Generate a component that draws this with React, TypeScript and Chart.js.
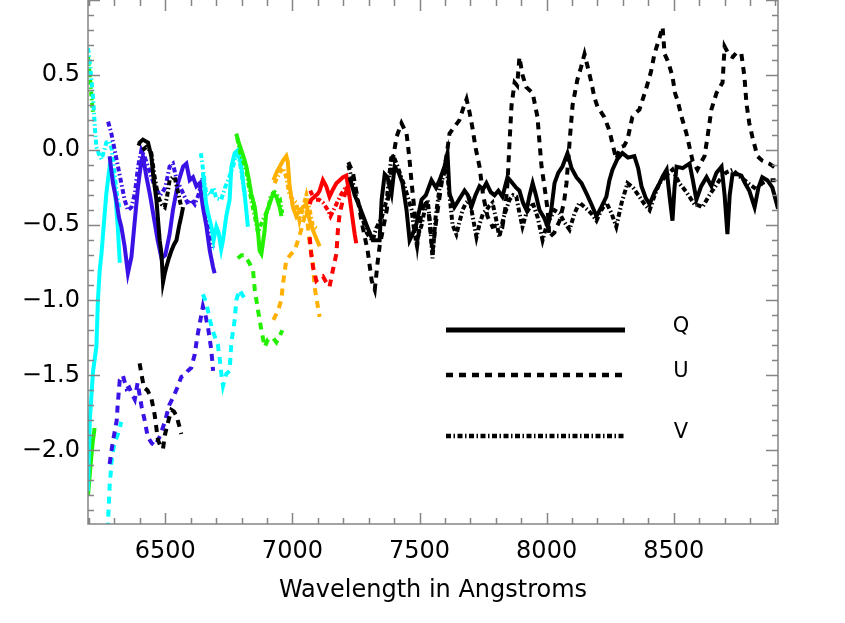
import React, { useEffect, useRef } from "react";
import { Chart, registerables } from "chart.js";

Chart.register(...registerables);

type P = [number, number][];

// ---- axis ----
const X_MIN = 6196;
const X_MAX = 8910;
const Y_MIN = -2.49;
const Y_MAX = 1.0;
const xTickValues = [6500, 7000, 7500, 8000, 8500];
const yTickValues = [-2.0, -1.5, -1.0, -0.5, 0.0, 0.5];
const xTitle = "Wavelength in Angstroms";
const legendLabels = ["Q", "U", "V"];

// ---- colours ----
const CYAN = "#00ffff";
const BLUE = "#3a12e6";
const BLACK = "#000000";
const GREEN = "#22f000";
const ORANGE = "#ffb000";
const RED = "#ff0000";

// ---- green (edge fragment) ----
const green2Q: P = [[6196, -2.3], [6205, -2.12], [6214, -1.95], [6222, -1.85]];
const green2V: P = [[6196, 0.62], [6203, 0.5], [6210, 0.35], [6216, 0.24]];

// ---- cyan order 1 ----
const cyan1Q: P = [[6196, -2.27], [6203, -1.8], [6216, -1.47], [6229, -1.31], [6235, -1.0], [6242, -0.8], [6249, -0.69], [6258, -0.5], [6268, -0.29], [6281, -0.11], [6290, -0.13], [6301, -0.24], [6313, -0.51], [6321, -0.75]];
const cyan1U: P = [[6266, -2.7], [6275, -2.47], [6281, -2.24], [6290, -2.05], [6300, -1.95], [6314, -1.89], [6327, -1.81]];
const cyan1V: P = [[6196, 0.68], [6205, 0.55], [6216, 0.35], [6225, 0.1], [6229, 0.02], [6240, -0.03], [6249, -0.06], [6260, 0.0], [6268, 0.05], [6281, 0.06], [6290, 0.0], [6300, -0.15], [6310, -0.3], [6321, -0.4]];

// ---- blue order ----
const blueQ: P = [[6281, -0.04], [6294, -0.22], [6307, -0.33], [6318, -0.45], [6327, -0.51], [6340, -0.64], [6353, -0.82], [6367, -0.71], [6380, -0.47], [6393, -0.24], [6406, -0.07], [6412, -0.04], [6426, -0.18], [6440, -0.3], [6455, -0.45], [6470, -0.6], [6485, -0.72], [6500, -0.7], [6517, -0.56], [6530, -0.4], [6550, -0.22], [6570, -0.11], [6583, -0.09], [6596, -0.2], [6609, -0.18], [6622, -0.24], [6635, -0.22], [6648, -0.38], [6662, -0.51], [6675, -0.67], [6688, -0.78], [6694, -0.82]];
const blueU: P = [[6281, -2.09], [6293, -1.95], [6309, -1.8], [6313, -1.69], [6321, -1.53], [6333, -1.5], [6348, -1.59], [6358, -1.58], [6368, -1.62], [6380, -1.66], [6391, -1.55], [6407, -1.71], [6419, -1.8], [6431, -1.91], [6446, -1.95], [6460, -1.97], [6480, -1.9], [6500, -1.8], [6515, -1.7], [6530, -1.65], [6548, -1.58], [6563, -1.51], [6576, -1.5], [6589, -1.47], [6602, -1.45], [6616, -1.36], [6625, -1.25], [6635, -1.16], [6648, -1.04], [6658, -1.1], [6668, -1.18], [6681, -1.33], [6688, -1.47]];
const blueV: P = [[6275, 0.19], [6288, 0.11], [6301, 0.0], [6314, -0.11], [6327, -0.22], [6340, -0.33], [6353, -0.4], [6367, -0.38], [6380, -0.29], [6393, -0.11], [6406, 0.0], [6420, -0.05], [6440, -0.15], [6460, -0.25], [6480, -0.3], [6500, -0.25], [6517, -0.11], [6530, -0.09], [6545, -0.2], [6560, -0.25], [6576, -0.31], [6590, -0.36], [6603, -0.33], [6616, -0.36], [6630, -0.3], [6648, -0.18], [6662, -0.4], [6675, -0.56], [6688, -0.65]];

// ---- black order (short) ----
const blackAQ: P = [[6395, 0.03], [6399, 0.05], [6412, 0.07], [6422, 0.06], [6432, 0.05], [6445, -0.04], [6452, -0.16], [6465, -0.33], [6478, -0.6], [6485, -0.69], [6491, -0.88], [6498, -0.82], [6504, -0.78], [6514, -0.72], [6524, -0.67], [6534, -0.63], [6544, -0.6], [6555, -0.5], [6563, -0.44], [6570, -0.38]];
const blackAU: P = [[6399, -1.42], [6406, -1.49], [6416, -1.58], [6430, -1.6], [6445, -1.65], [6458, -1.76], [6465, -1.85], [6471, -1.93], [6481, -1.97], [6491, -1.99], [6498, -1.9], [6511, -1.81], [6524, -1.73], [6534, -1.74], [6544, -1.77], [6557, -1.85], [6563, -1.89]];
const blackAV: P = [[6410, 0.0], [6425, 0.02], [6439, 0.0], [6445, -0.02], [6458, -0.18], [6472, -0.31], [6485, -0.36], [6498, -0.38], [6508, -0.3], [6517, -0.2], [6530, -0.18], [6537, -0.18], [6550, -0.28], [6563, -0.38]];

// ---- cyan order 2 ----
const cyanBQ: P = [[6648, -0.15], [6660, -0.35], [6668, -0.42], [6680, -0.5], [6690, -0.6], [6701, -0.51], [6710, -0.55], [6720, -0.66], [6727, -0.6], [6740, -0.44], [6753, -0.33], [6760, -0.11], [6773, -0.02], [6786, 0.0], [6799, -0.11], [6812, -0.29], [6825, -0.51]];
const cyanBU: P = [[6648, -0.96], [6662, -1.02], [6675, -1.13], [6688, -1.21], [6707, -1.3], [6714, -1.39], [6720, -1.48], [6727, -1.57], [6740, -1.49], [6753, -1.47], [6760, -1.28], [6773, -1.13], [6779, -1.0], [6792, -0.93], [6812, -0.99], [6825, -1.0]];
const cyanBV: P = [[6640, -0.02], [6650, -0.15], [6660, -0.28], [6675, -0.3], [6690, -0.25], [6700, -0.32], [6720, -0.33], [6735, -0.25], [6747, -0.2], [6766, -0.11], [6779, -0.03], [6790, -0.05], [6800, -0.15], [6812, -0.3]];

// ---- green order ----
const greenQ: P = [[6779, 0.11], [6789, 0.05], [6799, 0.0], [6809, -0.05], [6819, -0.11], [6829, -0.2], [6838, -0.29], [6852, -0.38], [6865, -0.55], [6871, -0.67], [6878, -0.69], [6884, -0.62], [6891, -0.53], [6897, -0.42], [6910, -0.36], [6924, -0.29], [6937, -0.31], [6950, -0.38], [6957, -0.44]];
const greenU: P = [[6785, -0.72], [6800, -0.7], [6812, -0.7], [6830, -0.75], [6845, -0.8], [6852, -0.93], [6865, -1.07], [6878, -1.2], [6891, -1.31], [6904, -1.26], [6924, -1.25], [6937, -1.28], [6950, -1.24], [6960, -1.2]];
const greenV: P = [[6783, 0.08], [6795, -0.02], [6806, -0.07], [6820, -0.15], [6838, -0.33], [6852, -0.44], [6865, -0.55], [6875, -0.5], [6888, -0.45], [6904, -0.4], [6915, -0.3], [6930, -0.28], [6950, -0.32], [6960, -0.42]];

// ---- orange order ----
const orangeQ: P = [[6925, -0.2], [6930, -0.18], [6940, -0.14], [6950, -0.11], [6963, -0.07], [6976, -0.04], [6982, -0.08], [6989, -0.24], [7002, -0.38], [7015, -0.44], [7028, -0.4], [7042, -0.38], [7055, -0.36], [7068, -0.47], [7087, -0.56], [7107, -0.64]];
const orangeU: P = [[6925, -1.13], [6943, -1.07], [6956, -1.0], [6963, -0.89], [6976, -0.73], [6996, -0.69], [7009, -0.67], [7022, -0.6], [7035, -0.53], [7048, -0.44], [7055, -0.4], [7061, -0.51], [7068, -0.62], [7081, -0.76], [7087, -0.91], [7100, -1.04], [7107, -1.11]];
const orangeV: P = [[6930, -0.22], [6950, -0.15], [6963, -0.12], [6976, -0.18], [6989, -0.3], [7002, -0.33], [7015, -0.35], [7028, -0.47], [7042, -0.38], [7055, -0.3], [7068, -0.4], [7080, -0.5], [7095, -0.52]];

// ---- red order ----
const redQ: P = [[7068, -0.36], [7074, -0.33], [7087, -0.31], [7100, -0.29], [7107, -0.27], [7120, -0.2], [7133, -0.24], [7146, -0.31], [7160, -0.26], [7173, -0.22], [7186, -0.2], [7199, -0.18], [7212, -0.17], [7220, -0.25], [7232, -0.4], [7245, -0.56], [7251, -0.62]];
const redU: P = [[7068, -0.58], [7074, -0.69], [7081, -0.78], [7094, -0.87], [7107, -0.85], [7120, -0.84], [7133, -0.88], [7146, -0.91], [7159, -0.8], [7173, -0.69], [7179, -0.53], [7186, -0.42], [7199, -0.33], [7212, -0.27], [7222, -0.22]];
const redV: P = [[7070, -0.27], [7087, -0.33], [7105, -0.33], [7120, -0.35], [7140, -0.4], [7150, -0.44], [7173, -0.36], [7190, -0.3], [7212, -0.24], [7225, -0.31]];

// ---- black order (long) ----
const blackQ: P = [[7225, -0.18], [7245, -0.3], [7265, -0.38], [7292, -0.5], [7316, -0.6], [7343, -0.6], [7351, -0.33], [7363, -0.16], [7374, -0.18], [7390, -0.29], [7402, -0.11], [7418, -0.15], [7433, -0.22], [7449, -0.4], [7461, -0.6], [7475, -0.55], [7488, -0.49], [7508, -0.33], [7525, -0.3], [7547, -0.2], [7565, -0.25], [7579, -0.2], [7598, -0.11], [7610, -0.02], [7618, -0.29], [7637, -0.38], [7655, -0.33], [7677, -0.27], [7690, -0.3], [7704, -0.38], [7720, -0.3], [7736, -0.24], [7750, -0.26], [7763, -0.22], [7780, -0.28], [7795, -0.3], [7810, -0.27], [7826, -0.31], [7846, -0.18], [7866, -0.22], [7880, -0.25], [7893, -0.27], [7907, -0.35], [7921, -0.4], [7933, -0.3], [7945, -0.22], [7958, -0.3], [7972, -0.4], [7990, -0.45], [8004, -0.51], [8018, -0.4], [8031, -0.22], [8046, -0.15], [8062, -0.11], [8082, -0.02], [8098, -0.12], [8117, -0.18], [8137, -0.22], [8157, -0.29], [8176, -0.36], [8196, -0.44], [8215, -0.38], [8235, -0.31], [8247, -0.2], [8259, -0.13], [8278, -0.06], [8298, -0.02], [8320, -0.05], [8345, -0.04], [8360, -0.12], [8373, -0.24], [8390, -0.32], [8405, -0.36], [8425, -0.28], [8444, -0.22], [8458, -0.17], [8472, -0.13], [8483, -0.3], [8495, -0.47], [8503, -0.25], [8511, -0.11], [8535, -0.12], [8562, -0.09], [8575, -0.2], [8589, -0.33], [8608, -0.24], [8629, -0.18], [8648, -0.24], [8668, -0.15], [8688, -0.11], [8700, -0.3], [8711, -0.56], [8720, -0.3], [8731, -0.16], [8750, -0.16], [8766, -0.17], [8780, -0.22], [8797, -0.27], [8818, -0.38], [8833, -0.25], [8848, -0.18], [8868, -0.2], [8888, -0.25], [8910, -0.39]];
const blackU: P = [[7220, -0.08], [7238, -0.15], [7253, -0.29], [7275, -0.5], [7296, -0.67], [7312, -0.87], [7324, -0.93], [7335, -0.75], [7343, -0.64], [7357, -0.52], [7371, -0.4], [7390, -0.11], [7410, 0.09], [7429, 0.18], [7449, 0.11], [7460, -0.05], [7469, -0.22], [7480, -0.4], [7492, -0.62], [7505, -0.45], [7520, -0.33], [7535, -0.4], [7551, -0.68], [7567, -0.45], [7580, -0.3], [7590, -0.18], [7606, -0.04], [7618, 0.11], [7635, 0.15], [7657, 0.2], [7672, 0.28], [7685, 0.34], [7697, 0.25], [7708, 0.15], [7720, 0.02], [7736, -0.11], [7750, -0.3], [7767, -0.44], [7787, -0.51], [7806, -0.5], [7826, -0.51], [7838, -0.38], [7846, -0.22], [7854, 0.05], [7862, 0.3], [7874, 0.45], [7884, 0.43], [7893, 0.62], [7905, 0.5], [7920, 0.42], [7945, 0.38], [7964, 0.22], [7972, 0.05], [7980, -0.11], [7992, -0.25], [8004, -0.4], [8011, -0.58], [8030, -0.55], [8051, -0.47], [8068, -0.35], [8078, -0.22], [8090, 0.05], [8102, 0.3], [8121, 0.47], [8135, 0.55], [8149, 0.64], [8162, 0.55], [8176, 0.45], [8188, 0.35], [8200, 0.29], [8227, 0.22], [8247, 0.13], [8262, 0.02], [8274, -0.06], [8290, 0.02], [8305, 0.03], [8318, 0.07], [8337, 0.22], [8352, 0.25], [8365, 0.27], [8380, 0.35], [8393, 0.42], [8410, 0.52], [8424, 0.64], [8444, 0.75], [8456, 0.82], [8464, 0.64], [8475, 0.6], [8483, 0.56], [8495, 0.49], [8505, 0.38], [8515, 0.33], [8531, 0.22], [8550, 0.11], [8562, 0.02], [8574, -0.07], [8593, -0.13], [8608, -0.08], [8621, -0.04], [8633, 0.09], [8648, 0.27], [8668, 0.38], [8692, 0.45], [8700, 0.69], [8719, 0.63], [8732, 0.62], [8747, 0.65], [8766, 0.64], [8778, 0.49], [8786, 0.31], [8797, 0.18], [8809, 0.09], [8829, -0.04], [8848, -0.07], [8876, -0.09], [8910, -0.13]];
const blackV: P = [[7220, -0.1], [7235, -0.2], [7250, -0.3], [7265, -0.38], [7280, -0.48], [7292, -0.55], [7304, -0.58], [7316, -0.6], [7330, -0.52], [7351, -0.45], [7371, -0.33], [7390, -0.03], [7400, -0.05], [7414, -0.11], [7428, -0.18], [7441, -0.24], [7455, -0.32], [7469, -0.4], [7480, -0.55], [7488, -0.62], [7498, -0.55], [7508, -0.5], [7520, -0.4], [7532, -0.33], [7542, -0.5], [7551, -0.72], [7563, -0.45], [7579, -0.25], [7592, -0.18], [7606, -0.11], [7618, -0.3], [7630, -0.5], [7645, -0.56], [7657, -0.48], [7669, -0.4], [7683, -0.35], [7697, -0.33], [7710, -0.45], [7724, -0.58], [7735, -0.5], [7750, -0.42], [7763, -0.4], [7775, -0.37], [7787, -0.35], [7800, -0.45], [7814, -0.58], [7830, -0.45], [7854, -0.33], [7868, -0.3], [7881, -0.31], [7893, -0.42], [7905, -0.51], [7920, -0.42], [7945, -0.35], [7965, -0.45], [7984, -0.6], [8000, -0.5], [8015, -0.45], [8031, -0.4], [8050, -0.42], [8070, -0.48], [8090, -0.53], [8110, -0.42], [8129, -0.35], [8150, -0.38], [8175, -0.42], [8196, -0.47], [8215, -0.4], [8235, -0.35], [8255, -0.42], [8274, -0.51], [8295, -0.35], [8318, -0.22], [8340, -0.25], [8365, -0.31], [8385, -0.36], [8405, -0.4], [8425, -0.3], [8444, -0.22], [8470, -0.17], [8495, -0.13], [8510, -0.18], [8522, -0.22], [8550, -0.28], [8581, -0.36], [8600, -0.37], [8613, -0.38], [8640, -0.3], [8660, -0.25], [8680, -0.2], [8705, -0.15], [8731, -0.13], [8755, -0.17], [8778, -0.2], [8800, -0.23], [8825, -0.26], [8848, -0.22], [8875, -0.2], [8910, -0.2]];

// ---- line styles ----
const LW = 4;
const DASH_U = [7, 6];
const DASH_V = [5, 2.5, 1.5, 2.5];

type Series = { data: P; color: string; kind: "Q" | "U" | "V" };

// drawn in this order: later entries on top
const seriesList: Series[] = [
  { data: green2Q, color: GREEN, kind: "Q" },
  { data: green2V, color: GREEN, kind: "V" },
  { data: cyan1U, color: CYAN, kind: "U" },
  { data: cyan1V, color: CYAN, kind: "V" },
  { data: cyan1Q, color: CYAN, kind: "Q" },
  { data: blueU, color: BLUE, kind: "U" },
  { data: blueV, color: BLUE, kind: "V" },
  { data: blueQ, color: BLUE, kind: "Q" },
  { data: blackAU, color: BLACK, kind: "U" },
  { data: blackAV, color: BLACK, kind: "V" },
  { data: blackAQ, color: BLACK, kind: "Q" },
  { data: cyanBU, color: CYAN, kind: "U" },
  { data: cyanBV, color: CYAN, kind: "V" },
  { data: cyanBQ, color: CYAN, kind: "Q" },
  { data: greenU, color: GREEN, kind: "U" },
  { data: greenV, color: GREEN, kind: "V" },
  { data: greenQ, color: GREEN, kind: "Q" },
  { data: orangeU, color: ORANGE, kind: "U" },
  { data: orangeV, color: ORANGE, kind: "V" },
  { data: orangeQ, color: ORANGE, kind: "Q" },
  { data: redU, color: RED, kind: "U" },
  { data: redV, color: RED, kind: "V" },
  { data: redQ, color: RED, kind: "Q" },
  { data: blackU, color: BLACK, kind: "U" },
  { data: blackV, color: BLACK, kind: "V" },
  { data: blackQ, color: BLACK, kind: "Q" },
];

const FONT = "'DejaVu Sans', 'Liberation Sans', sans-serif";
const AXIS_COLOR = "#858585";

const framePlugin = {
  id: "idlFrame",
  afterDatasetsDraw(chart: any) {
    const { ctx, chartArea } = chart;
    const { left, right, top, bottom } = chartArea;
    const xs = chart.scales.x;
    const ys = chart.scales.y;
    ctx.save();
    ctx.strokeStyle = AXIS_COLOR;
    ctx.lineWidth = 1.5;
    ctx.beginPath();
    ctx.moveTo(left, top - 2);
    ctx.lineTo(left, bottom);
    ctx.lineTo(right, bottom);
    ctx.lineTo(right, top - 2);
    // x ticks (bottom & top)
    for (let v = Math.ceil(xs.min / 100) * 100; v <= xs.max; v += 100) {
      const px = Math.round(xs.getPixelForValue(v)) + 0.5;
      const len = v % 500 === 0 ? 11 : 6;
      ctx.moveTo(px, bottom);
      ctx.lineTo(px, bottom - len);
      ctx.moveTo(px, top);
      ctx.lineTo(px, top + len);
    }
    // y ticks (left & right)
    for (let k = Math.ceil(ys.min * 10); k <= Math.floor(ys.max * 10); k++) {
      const py = Math.round(ys.getPixelForValue(k / 10)) + 0.5;
      const len = k % 5 === 0 ? 12 : 6;
      ctx.moveTo(left, py);
      ctx.lineTo(left + len, py);
      ctx.moveTo(right, py);
      ctx.lineTo(right - len, py);
    }
    ctx.stroke();

    // legend
    const lx0 = 446;
    const lx1 = 625;
    const rows = [
      { y: 330, dash: [] as number[], w: 5 },
      { y: 375, dash: DASH_U, w: 4.5 },
      { y: 436, dash: DASH_V, w: 4.5 },
    ];
    ctx.strokeStyle = "#000";
    ctx.lineCap = "butt";
    rows.forEach((r, i) => {
      ctx.beginPath();
      ctx.setLineDash(r.dash);
      ctx.lineWidth = r.w;
      ctx.moveTo(lx0, r.y);
      ctx.lineTo(lx1, r.y);
      ctx.stroke();
      ctx.setLineDash([]);
      ctx.fillStyle = "#000";
      ctx.font = `21px ${FONT}`;
      ctx.textAlign = "center";
      ctx.textBaseline = "alphabetic";
      ctx.fillText(legendLabels[i], 681, r.y + 2);
    });

    // x title
    ctx.font = `24px ${FONT}`;
    ctx.textAlign = "center";
    ctx.textBaseline = "alphabetic";
    ctx.fillStyle = "#000";
    ctx.fillText(xTitle, (left + right) / 2, 597);
    ctx.restore();
  },
};

export default function App() {
  const ref = useRef<HTMLCanvasElement | null>(null);

  useEffect(() => {
    if (!ref.current) return;
    const n = seriesList.length;
    const datasets = seriesList.map((s, i) => ({
      data: s.data.map(([x, y]) => ({ x, y })),
      borderColor: s.color,
      backgroundColor: s.color,
      borderWidth: LW,
      borderDash: s.kind === "U" ? DASH_U : s.kind === "V" ? DASH_V : [],
      pointRadius: 0,
      fill: false,
      tension: 0,
      order: n - i,
    }));

    const chart = new Chart(ref.current, {
      type: "line",
      data: { datasets },
      options: {
        animation: false,
        responsive: false,
        devicePixelRatio: 1,
        parsing: false as any,
        layout: { padding: { left: 0, right: 67, top: 0, bottom: 0 }, autoPadding: false } as any,
        plugins: {
          legend: { display: false },
          tooltip: { enabled: false },
          title: { display: false },
        },
        scales: {
          x: {
            type: "linear",
            min: X_MIN,
            max: X_MAX,
            grid: { display: false, drawTicks: false },
            border: { display: false },
            afterBuildTicks: (scale: any) => {
              scale.ticks = xTickValues.map((v) => ({ value: v }));
            },
            afterFit: (scale: any) => {
              scale.height = 99;
              scale.paddingLeft = 0;
              scale.paddingRight = 0;
            },
            ticks: {
              color: "#000",
              font: { family: FONT, size: 24 },
              padding: 13,
              maxRotation: 0,
              autoSkip: false,
              callback: (v: any) => String(v),
            },
          },
          y: {
            type: "linear",
            min: Y_MIN,
            max: Y_MAX,
            grid: { display: false, drawTicks: false },
            border: { display: false },
            afterBuildTicks: (scale: any) => {
              scale.ticks = yTickValues.map((v) => ({ value: v }));
            },
            afterFit: (scale: any) => {
              scale.width = 88;
              scale.paddingTop = 0;
              scale.paddingBottom = 0;
            },
            ticks: {
              color: "#000",
              font: { family: FONT, size: 24 },
              padding: 8,
              autoSkip: false,
              callback: (v: any) => Number(v).toFixed(1).replace("-", "\u2212"),
            },
          },
        },
      },
      plugins: [framePlugin],
    });
    return () => chart.destroy();
  }, []);

  return (
    <div style={{ position: "absolute", left: 0, top: 0, width: 845, height: 623, background: "#fff" }}>
      <canvas ref={ref} width={845} height={623} style={{ display: "block" }} />
    </div>
  );
}
